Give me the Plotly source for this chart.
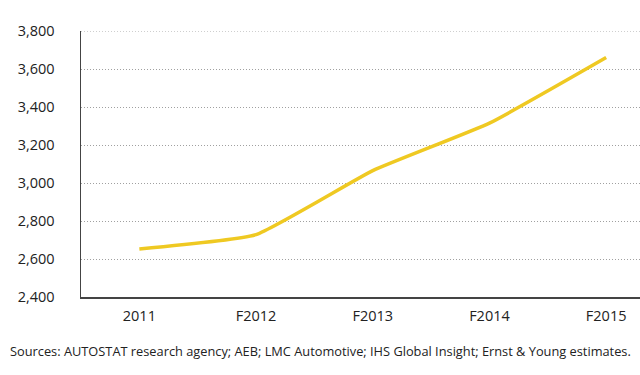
import plotly.graph_objects as go

categories = ["2011", "F2012", "F2013", "F2014", "F2015"]
values = [2653, 2728, 3065, 3315, 3660]
y_ticks = [2400, 2600, 2800, 3000, 3200, 3400, 3600, 3800]
source_text = "Sources: AUTOSTAT research agency; AEB; LMC Automotive; IHS Global Insight; Ernst & Young estimates."

fig = go.Figure()
fig.add_trace(go.Scatter(
    x=categories, y=values, mode="lines",
    line=dict(color="#EFC922", width=3.5, shape="spline", smoothing=0.4),
    hoverinfo="skip", showlegend=False, cliponaxis=False,
))

# top gridline at the upper range bound (plotly omits grid at the edge)
fig.add_shape(type="line", xref="paper", yref="y", x0=0, x1=1,
              y0=y_ticks[-1], y1=y_ticks[-1],
              line=dict(color="#a0a0a0", width=1, dash="1px,2px"), layer="below")

fig.update_layout(
    width=640, height=375,
    margin=dict(l=81, r=0, t=31, b=78, autoexpand=False),
    paper_bgcolor="white", plot_bgcolor="white",
    font=dict(family="Open Sans, Roboto, sans-serif", color="#222222", size=14),
    xaxis=dict(
        type="category", range=[-0.5, 4.29], automargin=False,
        showgrid=False, showline=True, linecolor="#444444", linewidth=1.5,
        ticks="", ticklabelstandoff=5, zeroline=False,
        tickfont=dict(size=14.5, color="#222222"),
    ),
    yaxis=dict(
        range=[2400, 3800], tickvals=y_ticks, automargin=False,
        tickformat=",d",
        showgrid=True, gridcolor="#a0a0a0", griddash="1px,2px", gridwidth=1,
        showline=True, linecolor="#444444", linewidth=1.5,
        ticks="", ticklabelstandoff=22, zeroline=False,
        tickfont=dict(size=14.5, color="#222222"),
    ),
    annotations=[dict(
        text=source_text, xref="paper", yref="paper",
        x=-73/559, y=-54/266, xanchor="left", yanchor="middle",
        showarrow=False, font=dict(size=12.8, color="#222222"),
    )],
)

fig.write_html("out.html", config={"displayModeBar": False, "staticPlot": True},
               post_script="document.body.style.margin='0';document.body.style.overflow='hidden';")
